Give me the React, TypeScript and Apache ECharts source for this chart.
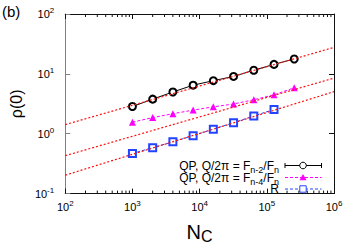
import React, { useEffect, useRef } from 'react';
import * as echarts from 'echarts';

const nc = [1000, 2000, 4000, 8000, 16000, 32000, 64000, 128000, 256000];
const qpFn2 = [2.85, 3.78, 4.98, 6.47, 7.69, 9.06, 11.5, 14.4, 17.7];
const qpFn4 = [1.56, 1.86, 2.16, 2.48, 2.81, 3.14, 3.7, 4.46, 5.86];
const randR = [0.468, 0.586, 0.733, 0.929, 1.19, 1.53, 1.98, 2.55];
const fitX = [100, 1000000];
const fitQp2 = [1.42, 27.7];
const fitQp4 = [0.43, 8.5];
const fitR = [0.203, 5.05];
const xDecades = [100, 1000, 10000, 100000];
const yDecades = [0.1, 1, 10];
const minorSteps = [2, 3, 4, 5, 6, 7, 8, 9];

const seriesNames = ['qp2', 'qp4', 'R'];
const legendLabels = [
  'QP, Q/2π = F{sub|n-2}/F{sub|n}',
  'QP, Q/2π = F{sub|n-4}/F{sub|n}',
  'R',
];
const seriesColors = ['#000000', '#ff00ff', '#2244ff'];

const FONT = 'Liberation Sans, Arial, Helvetica, sans-serif';

const xMinor: number[] = [];
xDecades.forEach((d) => minorSteps.forEach((m) => xMinor.push(d * m)));
const yMinor: number[] = [];
yDecades.forEach((d) => minorSteps.forEach((m) => yMinor.push(+(d * m).toPrecision(3))));

const pow10Label = (v: number) => {
  const e = Math.round(Math.log10(v));
  return `{b|10}{s|${e}}`;
};
const labelRich = {
  b: { fontSize: 11, fontFamily: FONT, color: '#000', lineHeight: 12 },
  s: { fontSize: 8, fontFamily: FONT, color: '#000', lineHeight: 12, padding: [0, 0, 7, 0] },
};

export default function App() {
  const ref = useRef<HTMLDivElement>(null);
  useEffect(() => {
    if (!ref.current) return;
    document.body.style.margin = '0';
    const chart = echarts.init(ref.current, undefined, { renderer: 'svg' });
    const axisBlack = { lineStyle: { color: '#111', width: 1 } };
    const tickIn = { show: true, inside: true, length: 5, lineStyle: { color: '#111' } };
    const minorRender = (isX: boolean) => (params: any, api: any) => {
      const cs = params.coordSys;
      const v = api.value(0);
      const p = api.coord(isX ? [v, 1] : [1000, v]);
      const L = 3;
      const st = { stroke: '#111', lineWidth: 1 };
      if (isX) {
        const b = cs.y + cs.height;
        return {
          type: 'group',
          children: [
            { type: 'line', shape: { x1: p[0], y1: b, x2: p[0], y2: b - L }, style: st },
            { type: 'line', shape: { x1: p[0], y1: cs.y, x2: p[0], y2: cs.y + L }, style: st },
          ],
        };
      }
      const r = cs.x + cs.width;
      return {
        type: 'group',
        children: [
          { type: 'line', shape: { x1: cs.x, y1: p[1], x2: cs.x + L, y2: p[1] }, style: { stroke: '#808080', lineWidth: 1 } },
          { type: 'line', shape: { x1: r, y1: p[1], x2: r - L, y2: p[1] }, style: st },
        ],
      };
    };

    // Legend (drawn as graphic, key layout)
    const rowY = [165.5, 177.5, 189];
    const textRight = 279;
    const lx1 = 285;
    const lx2 = 321.5;
    const cx = 303;
    const legendEls: any[] = [];
    rowY.forEach((y, i) => {
      const col = seriesColors[i];
      legendEls.push({
        type: 'text',
        x: textRight,
        y,
        style: {
          text: legendLabels[i],
          align: 'right',
          verticalAlign: 'middle',
          fontSize: 12,
          fontFamily: FONT,
          fill: '#000',
          lineHeight: 12,
          rich: {
            sub: { fontSize: 9, fontFamily: FONT, fill: '#000', lineHeight: 12, height: 4, verticalAlign: 'bottom' },
          },
        },
      });
      legendEls.push({
        type: 'line',
        shape: { x1: lx1, y1: y, x2: lx2, y2: y },
        style: { stroke: col, lineWidth: 1, lineDash: i === 0 ? null : [3, 2] },
      });
      if (i === 0) {
        legendEls.push({ type: 'line', shape: { x1: lx1, y1: y - 2.5, x2: lx1, y2: y + 2.5 }, style: { stroke: col, lineWidth: 1 } });
        legendEls.push({ type: 'line', shape: { x1: lx2, y1: y - 2.5, x2: lx2, y2: y + 2.5 }, style: { stroke: col, lineWidth: 1 } });
        legendEls.push({ type: 'circle', shape: { cx, cy: y, r: 3.3 }, style: { stroke: col, fill: '#fff', lineWidth: 1 } });
      } else if (i === 1) {
        legendEls.push({
          type: 'polygon',
          shape: { points: [[cx, y - 3.5], [cx - 3.5, y + 2.8], [cx + 3.5, y + 2.8]] },
          style: { fill: col },
        });
      } else {
        legendEls.push({ type: 'rect', shape: { x: cx - 3.2, y: y - 3.2, width: 6.4, height: 6.4 }, style: { stroke: col, fill: '#fff', lineWidth: 1 } });
      }
    });

    const option: any = {
      animation: false,
      textStyle: { fontFamily: FONT },
      grid: { left: 52, top: 14, width: 282, height: 185 },
      graphic: [
        { type: 'text', left: 2, top: 4, style: { text: '(b)', fontSize: 15, fontFamily: FONT, fill: '#000' } },
        { type: 'group', z: 100, children: legendEls },
      ],
      xAxis: [
        {
          type: 'log',
          logBase: 10,
          min: 100,
          max: 1000000,
          name: 'N{sub|C}',
          nameLocation: 'middle',
          nameGap: 16,
          nameTextStyle: {
            fontSize: 20,
            fontFamily: FONT,
            color: '#000',
            lineHeight: 20,
            rich: { sub: { fontSize: 16, fontFamily: FONT, color: '#000', lineHeight: 20, padding: [9, 0, 0, 0] } },
          },
          axisLine: axisBlack,
          axisTick: tickIn,
          axisLabel: { formatter: pow10Label, rich: labelRich, margin: 7 },
          splitLine: { show: false },
        },
        {
          type: 'log',
          logBase: 10,
          min: 100,
          max: 1000000,
          position: 'top',
          axisLine: axisBlack,
          axisTick: tickIn,
          axisLabel: { show: false },
          splitLine: { show: false },
        },
      ],
      yAxis: [
        {
          type: 'log',
          logBase: 10,
          min: 0.1,
          max: 100,
          name: 'ρ(0)',
          nameLocation: 'middle',
          nameGap: 32,
          nameRotate: 90,
          nameTextStyle: { fontSize: 16, fontFamily: FONT, color: '#000' },
          axisLine: { lineStyle: { color: '#808080', width: 1 } },
          axisTick: { show: true, inside: true, length: 5, lineStyle: { color: '#808080' } },
          axisLabel: { formatter: pow10Label, rich: labelRich, margin: 11 },
          splitLine: { show: false },
        },
        {
          type: 'log',
          logBase: 10,
          min: 0.1,
          max: 100,
          position: 'right',
          axisLine: axisBlack,
          axisTick: tickIn,
          axisLabel: { show: false },
          splitLine: { show: false },
        },
      ],
      series: [
        {
          type: 'custom',
          silent: true,
          renderItem: minorRender(true),
          data: xMinor.map((v) => [v, 1]),
          encode: { x: 0, y: 1 },
          clip: false,
        },
        {
          type: 'custom',
          silent: true,
          renderItem: minorRender(false),
          data: yMinor.map((v) => [1000, v]),
          encode: { x: 0, y: 1 },
          clip: false,
        },
        {
          name: seriesNames[0],
          type: 'line',
          data: nc.map((x, i) => [x, qpFn2[i]]),
          symbol: 'emptyCircle',
          symbolSize: 7,
          lineStyle: { color: seriesColors[0], width: 1 },
          itemStyle: { color: seriesColors[0], borderWidth: 1 },
          z: 3,
        },
        {
          name: seriesNames[1],
          type: 'line',
          data: nc.map((x, i) => [x, qpFn4[i]]),
          symbol: 'triangle',
          symbolSize: 7,
          lineStyle: { color: seriesColors[1], width: 1, type: [3, 2] },
          itemStyle: { color: seriesColors[1] },
          z: 3,
        },
        {
          name: seriesNames[2],
          type: 'line',
          data: randR.map((y, i) => [nc[i], y]),
          symbol: 'emptyRect',
          symbolSize: 7,
          lineStyle: { color: seriesColors[2], width: 1, type: [3, 2] },
          itemStyle: { color: seriesColors[2], borderWidth: 1 },
          z: 3,
        },
        ...[fitQp2, fitQp4, fitR].map((f) => ({
          type: 'line',
          data: fitX.map((x, i) => [x, f[i]]),
          symbol: 'none',
          silent: true,
          lineStyle: { color: '#ff1010', width: 1.2, type: [2, 2] },
          z: 4,
        })),
      ],
    };
    chart.setOption(option);
    return () => chart.dispose();
  }, []);
  return <div ref={ref} style={{ width: 356, height: 249 }} />;
}
